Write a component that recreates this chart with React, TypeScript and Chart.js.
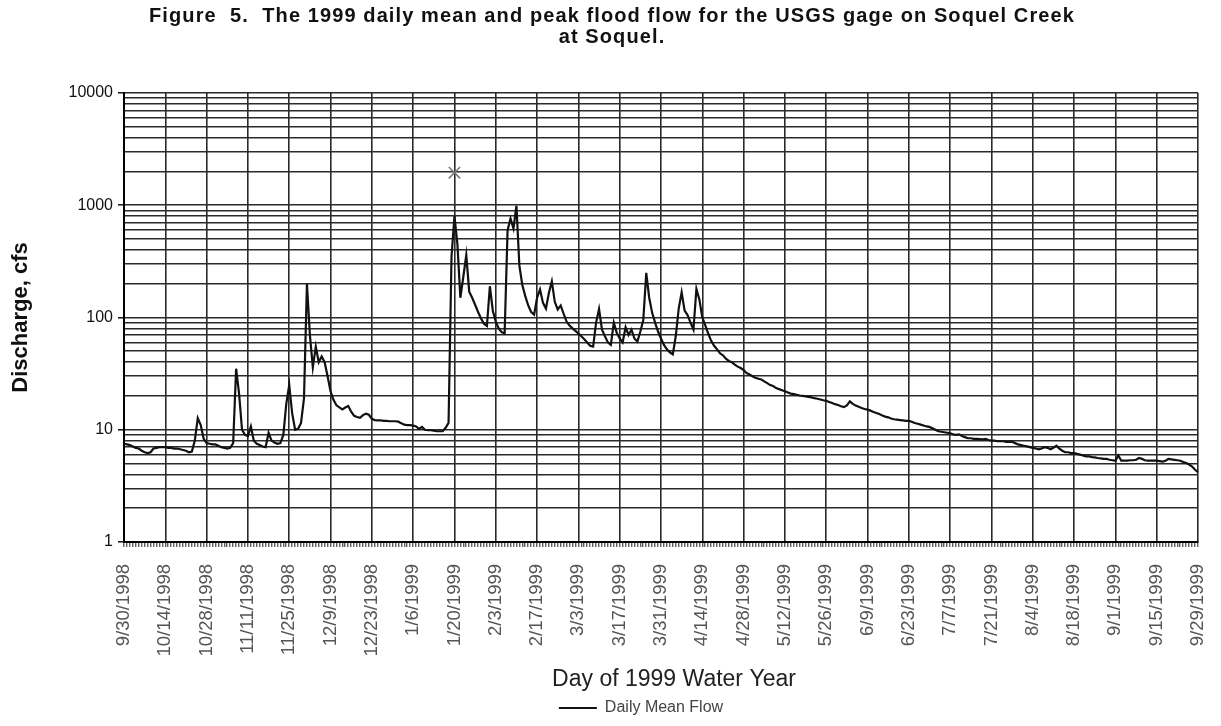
import React, { useEffect, useRef } from 'react';
import { Chart, registerables } from 'chart.js';

Chart.register(...registerables);

// ---- data ----
const DAY_COUNT = 365;
const CATEGORIES: string[] = [];
for (let i = 0; i < DAY_COUNT; i++) {
  const d = new Date(1998, 8, 30 + i);
  CATEGORIES.push(`${d.getMonth() + 1}/${d.getDate()}/${d.getFullYear()}`);
}

const TICK_LABELS = [
  '9/30/1998', '10/14/1998', '10/28/1998', '11/11/1998', '11/25/1998', '12/9/1998',
  '12/23/1998', '1/6/1999', '1/20/1999', '2/3/1999', '2/17/1999', '3/3/1999',
  '3/17/1999', '3/31/1999', '4/14/1999', '4/28/1999', '5/12/1999', '5/26/1999',
  '6/9/1999', '6/23/1999', '7/7/1999', '7/21/1999', '8/4/1999', '8/18/1999',
  '9/1/1999', '9/15/1999', '9/29/1999',
];

const DAILY_MEAN_FLOW = [
  7.5, 7.4, 7.3, 7.1, 6.9, 6.8, 6.5, 6.3, 6.2, 6.3,
  6.8, 6.9, 7.0, 7.0, 7.0, 6.9, 6.9, 6.8, 6.8, 6.7,
  6.6, 6.5, 6.3, 6.4, 8.0, 12.7, 11.0, 8.3, 7.6, 7.5,
  7.4, 7.4, 7.2, 7.0, 6.9, 6.8, 6.9, 7.6, 35.0, 21.0,
  10.0, 9.0, 8.8, 10.7, 8.0, 7.5, 7.3, 7.1, 7.0, 9.4,
  8.0, 7.7, 7.5, 7.6, 9.0, 17.0, 25.0, 14.0, 10.0, 10.2,
  11.5, 19.0, 200, 70, 36, 55, 40, 45, 40, 30,
  22, 18.5, 16.5, 15.8, 15.2, 15.8, 16.3, 14.5, 13.3, 13.0,
  12.8, 13.5, 13.9, 13.6, 12.5, 12.2, 12.1, 12.1, 12.0, 12.0,
  11.9, 11.9, 11.9, 11.8, 11.4, 11.1, 11.0, 11.0, 10.9, 10.7,
  10.2, 10.6, 10.0, 9.9, 9.9, 9.8, 9.7, 9.7, 9.7, 10.4,
  11.5, 350, 800, 450, 150, 230, 360, 170, 150, 130,
  112, 98, 88, 84, 190, 115, 92, 80, 74, 72,
  600, 760, 620, 990, 290, 195, 155, 128, 112, 106,
  150, 178, 135, 120, 165, 210, 138, 118, 128, 108,
  92, 85, 80, 76, 72, 68, 64, 60, 56, 55,
  90, 119, 78, 68, 60, 57, 90, 73, 65, 60,
  82, 70, 78, 65, 61, 75, 95, 250, 150, 110,
  90, 75, 65, 57, 52, 49, 47, 68, 120, 168,
  115, 105, 90, 78, 180, 145, 100, 85, 72, 62,
  56, 52, 48, 46, 43, 41, 40, 38, 36.5, 35.5,
  34, 32, 31, 30, 29, 28.5, 28, 27, 26, 25,
  24.5, 23.5, 23, 22.5, 22, 21.5, 21, 20.8, 20.5, 20.2,
  20, 19.8, 19.6, 19.4, 19.1, 18.9, 18.6, 18.3, 18.1, 17.7,
  17.3, 16.9, 16.6, 16.2, 15.9, 16.5, 17.9, 17.0, 16.4, 16.0,
  15.6, 15.3, 15.1, 14.8, 14.4, 14.1, 13.8, 13.4, 13.1, 12.9,
  12.6, 12.4, 12.3, 12.2, 12.1, 12.0, 12.0, 11.8, 11.5, 11.3,
  11.1, 10.9, 10.7, 10.6, 10.3, 10.0, 9.7, 9.6, 9.5, 9.4,
  9.3, 9.1, 9.0, 9.1, 8.8, 8.6, 8.4, 8.4, 8.3, 8.3,
  8.25, 8.2, 8.3, 8.1, 8.0, 8.0, 7.9, 7.9, 7.9, 7.8,
  7.8, 7.8, 7.6, 7.4, 7.3, 7.2, 7.1, 7.0, 6.9, 6.8,
  6.7, 6.8, 7.0, 6.9, 6.7, 6.9, 7.2, 6.8, 6.5, 6.3,
  6.3, 6.2, 6.2, 6.1, 6.0, 5.9, 5.8, 5.8, 5.7, 5.67,
  5.6, 5.55, 5.5, 5.5, 5.4, 5.35, 5.3, 5.9, 5.3, 5.3,
  5.3, 5.35, 5.35, 5.4, 5.6, 5.5, 5.35, 5.3, 5.3, 5.3,
  5.3, 5.25, 5.2, 5.3, 5.5, 5.45, 5.4, 5.35, 5.3, 5.15,
  5.05, 4.9, 4.7, 4.4, 4.2,
];

const PEAK_DATE = '1/20/1999';
const PEAK_FLOW = 1950;

const Y_GRID_VALUES = [
  1, 2, 3, 4, 5, 6, 7, 8, 9,
  10, 20, 30, 40, 50, 60, 70, 80, 90,
  100, 200, 300, 400, 500, 600, 700, 800, 900,
  1000, 2000, 3000, 4000, 5000, 6000, 7000, 8000, 9000,
  10000,
];
const Y_LABEL_VALUES = [1, 10, 100, 1000, 10000];

const FONT = "'Liberation Sans', Arial, sans-serif";
const GRID = '#2a2a2a';

const tweakPlugin = {
  id: 'tweaks',
  afterInit(chart: any) {
    const tb = chart.titleBlock;
    if (tb && !tb.__wrapped) {
      const orig = tb.draw.bind(tb);
      tb.draw = (...args: any[]) => {
        const ctx = chart.ctx;
        ctx.save();
        (ctx as any).letterSpacing = '1.1px';
        ctx.translate(13, 0);
        orig(...args);
        ctx.restore();
      };
      tb.__wrapped = true;
    }
  },
  afterLayout(chart: any) {
    const lg = chart.legend;
    if (lg) {
      lg.left += 42;
      lg.right += 42;
    }
    const xs = chart.scales.x;
    if (xs && !xs.__wrapped) {
      const origTitle = xs.drawTitle.bind(xs);
      xs.drawTitle = (...args: any[]) => {
        const ctx = chart.ctx;
        ctx.save();
        ctx.translate(13, 0);
        origTitle(...args);
        ctx.restore();
      };
      xs.__wrapped = true;
    }
  },
};

export default function App() {
  const ref = useRef<HTMLCanvasElement | null>(null);

  useEffect(() => {
    if (!ref.current) return;
    Chart.defaults.font.family = FONT;
    const chart = new Chart(ref.current, {
      type: 'line',
      data: {
        labels: CATEGORIES,
        datasets: [
          {
            label: 'Daily Mean Flow',
            data: DAILY_MEAN_FLOW,
            borderColor: '#111',
            backgroundColor: '#111',
            borderWidth: 2.2,
            pointRadius: 0,
            tension: 0,
            pointStyle: 'line',
          },
          {
            label: 'Peak Flow',
            data: [{ x: PEAK_DATE, y: PEAK_FLOW }] as any,
            showLine: false,
            pointStyle: 'crossRot',
            pointRadius: 8,
            borderColor: '#777',
            backgroundColor: '#777',
            borderWidth: 1.5,
          },
        ],
      },
      options: {
        animation: false,
        responsive: true,
        maintainAspectRatio: false,
        layout: { padding: { left: 0, right: 23, top: 0, bottom: 0 } },
        plugins: {
          tooltip: { enabled: false },
          title: {
            display: true,
            text: [
              'Figure  5.  The 1999 daily mean and peak flood flow for the USGS gage on Soquel Creek',
              'at Soquel.',
            ],
            color: '#111',
            font: { family: FONT, size: 20, weight: 'bold', lineHeight: 1.05 },
            padding: { top: 6, bottom: 45 },
          },
          legend: {
            display: true,
            position: 'bottom',
            labels: {
              filter: (item: any) => item.datasetIndex === 0,
              usePointStyle: true,
              pointStyle: 'line',
              pointStyleWidth: 38,
              color: '#444',
              font: { family: FONT, size: 16 },
              padding: 5,
            },
          },
        },
        scales: {
          x: {
            type: 'category',
            afterFit: (scale: any) => {
              scale.height = 153;
              scale.paddingRight = 0;
            },
            grid: {
              color: (ctx: any) =>
                TICK_LABELS.includes(CATEGORIES[ctx.index]) ? GRID : 'rgba(0,0,0,0)',
              lineWidth: 1.6,
              tickColor: '#222',
              tickWidth: 1,
              tickLength: 5,
              drawTicks: true,
            },
            border: { color: '#000', width: 2 },
            ticks: {
              autoSkip: false,
              minRotation: 90,
              maxRotation: 90,
              padding: 17,
              color: '#555',
              font: { family: FONT, size: 18.5 },
              callback: (_v: any, idx: number) =>
                TICK_LABELS.includes(CATEGORIES[idx]) ? CATEGORIES[idx] : '',
            },
            title: {
              display: true,
              text: 'Day of 1999 Water Year',
              color: '#222',
              font: { family: FONT, size: 23 },
              padding: { top: 4, bottom: 2 },
            },
          },
          y: {
            type: 'logarithmic',
            min: 1,
            max: 10000,
            afterBuildTicks: (scale: any) => {
              scale.ticks = Y_GRID_VALUES.map((v) => ({ value: v }));
            },
            afterFit: (scale: any) => {
              scale.width = 124;
            },
            grid: {
              color: GRID,
              lineWidth: 1.6,
              tickColor: (ctx: any) =>
                ctx.tick && Y_LABEL_VALUES.includes(ctx.tick.value) ? '#222' : 'rgba(0,0,0,0)',
              tickLength: 6,
            },
            border: { color: '#000', width: 2 },
            ticks: {
              autoSkip: false,
              padding: 5,
              color: '#111',
              font: { family: FONT, size: 16 },
              callback: (v: any) => (Y_LABEL_VALUES.includes(Number(v)) ? String(v) : ''),
            },
            title: {
              display: true,
              text: 'Discharge, cfs',
              color: '#111',
              font: { family: FONT, size: 22, weight: 'bold' },
              padding: { top: 8, bottom: 0 },
            },
          },
        },
      },
      plugins: [tweakPlugin],
    });
    return () => chart.destroy();
  }, []);

  return (
    <div style={{ position: 'fixed', left: 0, top: 0, width: 1221, height: 726, background: '#fff' }}>
      <canvas ref={ref} />
    </div>
  );
}
